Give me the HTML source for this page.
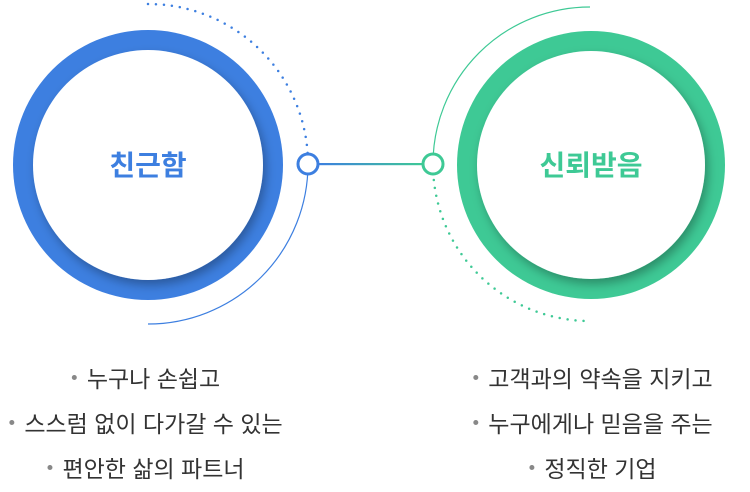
<!DOCTYPE html>
<html><head><meta charset="utf-8"><style>
body{margin:0;width:750px;height:492px;background:#fff;overflow:hidden;position:relative;font-family:"Liberation Sans","Noto Sans CJK KR",sans-serif}
.t{position:absolute;font-size:23px;color:#333;white-space:nowrap;transform:translateX(-50%)}
.t b{display:inline-block;width:5px;height:5px;border-radius:50%;background:#888;vertical-align:middle;margin-right:10px;position:relative;top:-3px}
</style></head><body>
<svg width="750" height="340" style="position:absolute;left:0;top:0">
<defs>
<linearGradient id="ln" gradientUnits="userSpaceOnUse" x1="318" y1="0" x2="423" y2="0"><stop offset="0" stop-color="#3d7fe0"/><stop offset="1" stop-color="#3ec995"/></linearGradient>
<filter id="sh" x="-20%" y="-20%" width="140%" height="140%"><feDropShadow dx="3" dy="5" stdDeviation="5" flood-color="#000" flood-opacity="0.3"/></filter>
</defs>
<path d="M148 4 A160 160 0 0 1 308 164" fill="none" stroke="#3d7fe0" stroke-width="2.5" stroke-dasharray="0 8" stroke-linecap="round"/>
<path d="M308 164 A160 160 0 0 1 148 324" fill="none" stroke="#3d7fe0" stroke-width="1.2"/>
<path d="M590 7 A157 157 0 0 0 433 164" fill="none" stroke="#3ec995" stroke-width="1.2"/>
<path d="M433 164 A157 157 0 0 0 590 321" fill="none" stroke="#3ec995" stroke-width="2.5" stroke-dasharray="0 8" stroke-linecap="round"/>
<rect x="318" y="163" width="105" height="2.2" fill="url(#ln)"/>
<circle cx="308" cy="164" r="10" fill="#fff" stroke="#3d7fe0" stroke-width="3"/>
<circle cx="433" cy="164" r="10" fill="#fff" stroke="#3ec995" stroke-width="3"/>
<circle cx="148" cy="165" r="135" fill="#3d7fe0"/>
<circle cx="148" cy="165" r="115" fill="#fff" filter="url(#sh)"/>
<circle cx="591" cy="165" r="134" fill="#3ec995"/>
<circle cx="591" cy="165" r="114" fill="#fff" filter="url(#sh)"/>
<text x="148" y="175" text-anchor="middle" font-size="28" font-weight="bold" fill="#3d7fe0" font-family="Liberation Sans, Noto Sans CJK KR, sans-serif">친근함</text>
<text x="591" y="175" text-anchor="middle" font-size="28" font-weight="bold" fill="#3ec995" font-family="Liberation Sans, Noto Sans CJK KR, sans-serif">신뢰받음</text>
</svg>
<div class="t" style="left:146px;top:360px"><b></b>누구나 손쉽고</div>
<div class="t" style="left:146px;top:405px"><b></b>스스럼 없이 다가갈 수 있는</div>
<div class="t" style="left:146px;top:450px"><b></b>편안한 삶의 파트너</div>
<div class="t" style="left:593px;top:360px"><b></b>고객과의 약속을 지키고</div>
<div class="t" style="left:593px;top:405px"><b></b>누구에게나 믿음을 주는</div>
<div class="t" style="left:593px;top:450px"><b></b>정직한 기업</div>
</body></html>
